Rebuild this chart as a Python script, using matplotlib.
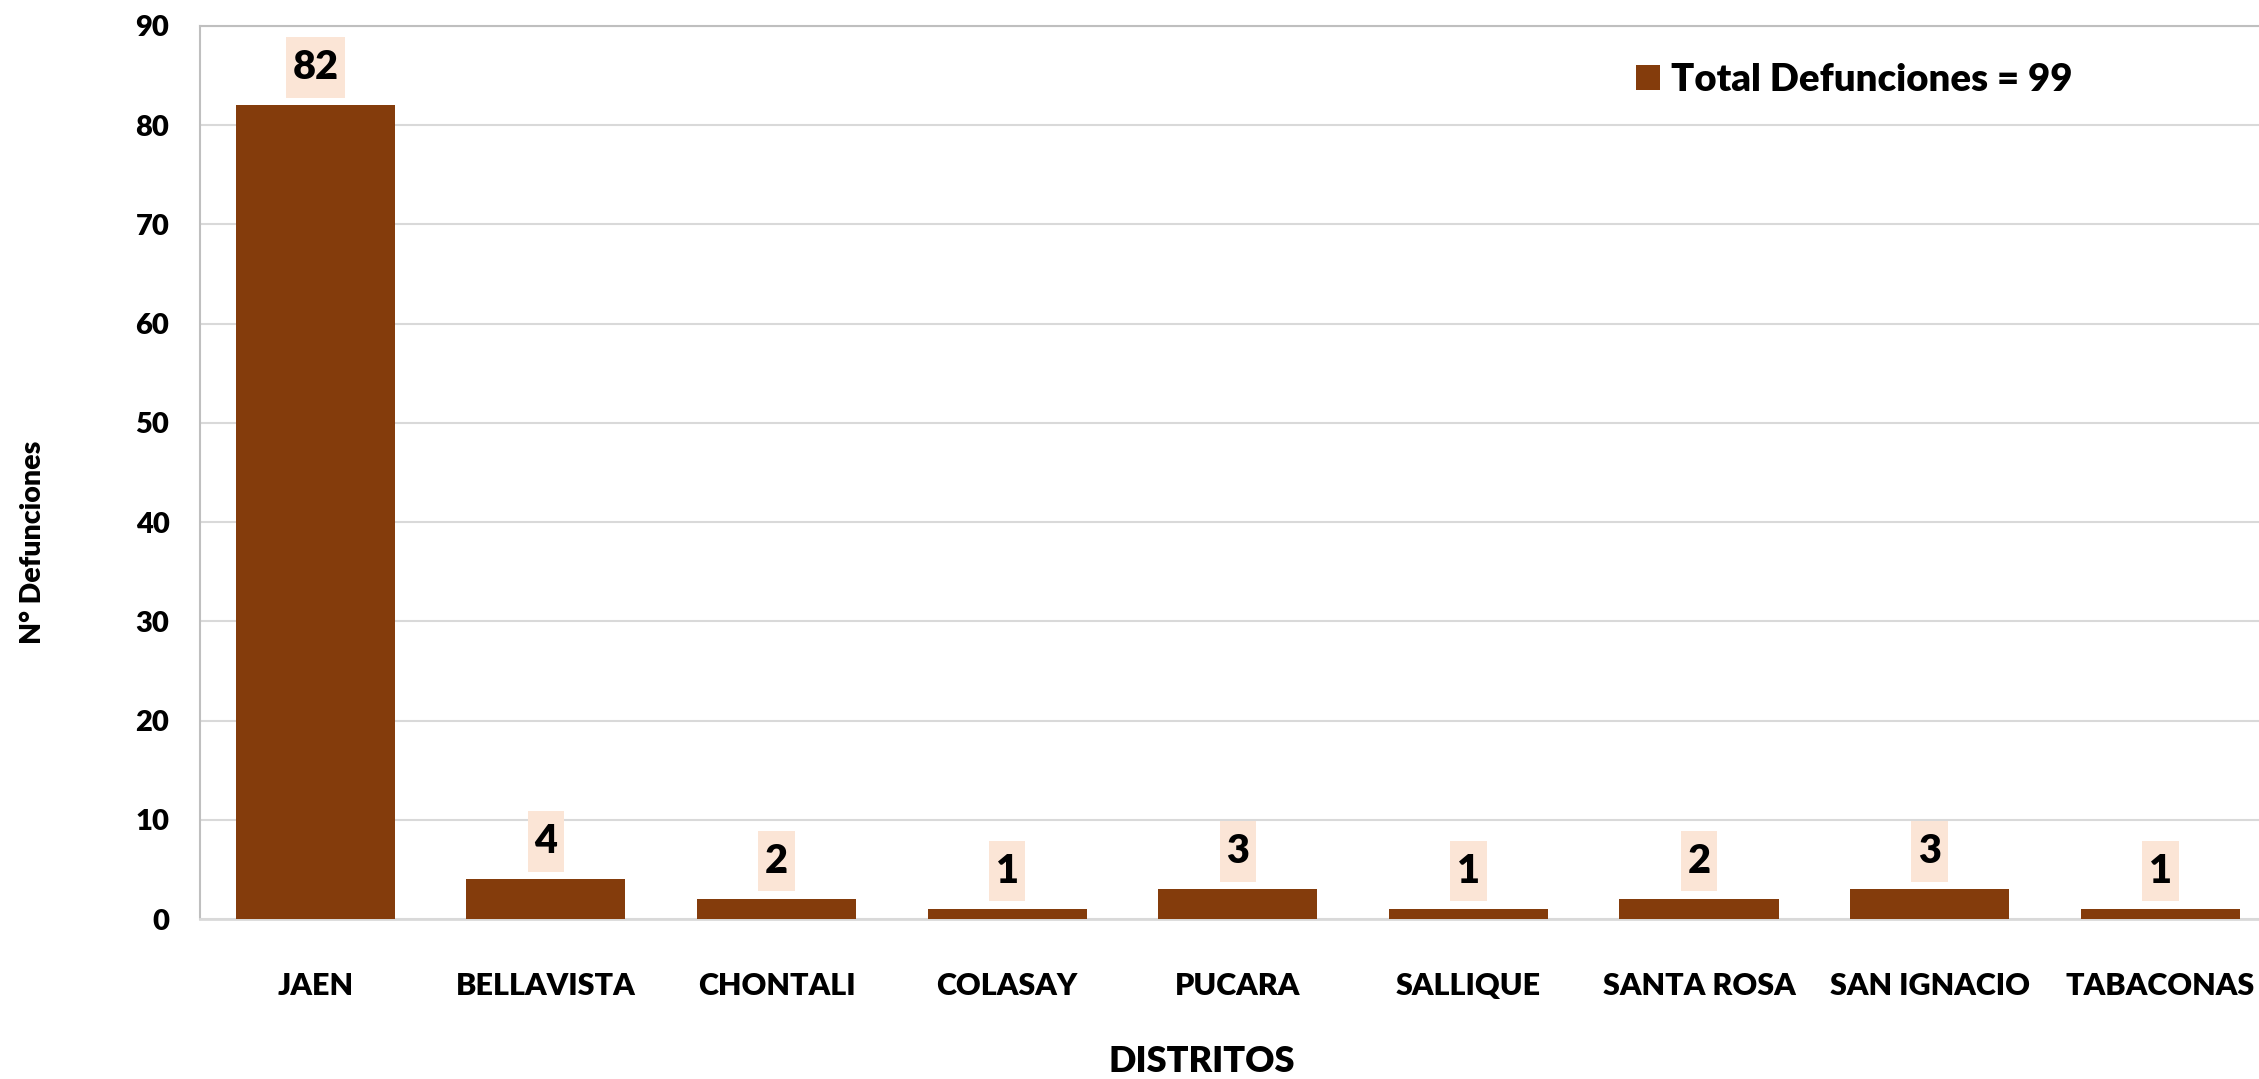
import matplotlib
matplotlib.use("Agg")
import matplotlib.pyplot as plt
from matplotlib.path import Path
import numpy as np

plt.rcParams['font.family'] = ['Lato', 'DejaVu Sans']
plt.rcParams['font.weight'] = 'heavy'

distritos = ["JAEN", "BELLAVISTA", "CHONTALI", "COLASAY", "PUCARA",
             "SALLIQUE", "SANTA ROSA", "SAN IGNACIO", "TABACONAS"]
defunciones = [82, 4, 2, 1, 3, 1, 2, 3, 1]
yticks = [0, 10, 20, 30, 40, 50, 60, 70, 80, 90]
legend_label = "Total Defunciones = 99"

BAR = "#843C0C"
LBL_BG = "#FBE5D6"
W_ = 'heavy'


def label_box(x0, y0, width, height, mutation_size):
    px = 0.17 * mutation_size
    py = 0.3 * mutation_size
    x0 -= px
    y0 -= py
    x1 = x0 + width + 2 * px
    y1 = y0 + height + 2 * py
    return Path([(x0, y0), (x1, y0), (x1, y1), (x0, y1), (x0, y0)], closed=True)


W, H = 2259, 1079
fig = plt.figure(figsize=(W / 100, H / 100), dpi=100)
left, right_px = 200, 2275.6
top, bottom = 26, 919
ax = fig.add_axes([left / W, (H - bottom) / H, (right_px - left) / W, (bottom - top) / H])

x = np.arange(len(distritos))
ax.bar(x, defunciones, width=0.69, color=BAR, zorder=3, label=legend_label)
ax.set_xlim(-0.5, len(distritos) - 0.5)
ax.set_ylim(0, 90)
ax.set_yticks(yticks)
ax.set_xticks(x)
ax.set_xticklabels(distritos, fontsize=22, fontweight=W_)
ax.tick_params(axis='x', length=0, pad=38)
ax.tick_params(axis='y', length=0, pad=22, labelsize=21)
for t in ax.get_yticklabels():
    t.set_fontweight(W_)

ax.grid(axis='y', color='#D9D9D9', linewidth=1.5, zorder=0)
ax.set_axisbelow(True)
ax.spines['right'].set_visible(False)
ax.spines['left'].set_color('#BFBFBF')
ax.spines['left'].set_linewidth(1.5)
ax.spines['top'].set_color('#BFBFBF')
ax.spines['top'].set_linewidth(1.5)
ax.spines['bottom'].set_color('#D9D9D9')
ax.spines['bottom'].set_linewidth(2)

for xi, v in zip(x, defunciones):
    ax.annotate(str(v), xy=(xi, v), xytext=(0, 27.4), textcoords='offset points',
                ha='center', va='center', fontsize=28.5, fontweight=W_, color='black',
                bbox=dict(boxstyle=label_box, fc=LBL_BG, ec='none'), zorder=4)

ax.legend(loc='upper left',
          bbox_to_anchor=((1636 - left) / (right_px - left), 1 - (63 - top) / (bottom - top)),
          frameon=False, prop={'weight': W_, 'size': 27.5},
          handlelength=0.62, handleheight=0.62, handletextpad=0.3, borderaxespad=0,
          borderpad=0)

fig.text(1202 / W, 1 - 1062 / H, "DISTRITOS", ha='center', va='center', fontsize=26, fontweight=W_)
fig.text(33 / W, 1 - 542 / H, "N° Defunciones", ha='center', va='center', rotation=90,
         fontsize=20.5, fontweight=W_)

fig.savefig("out.png", dpi=100)
